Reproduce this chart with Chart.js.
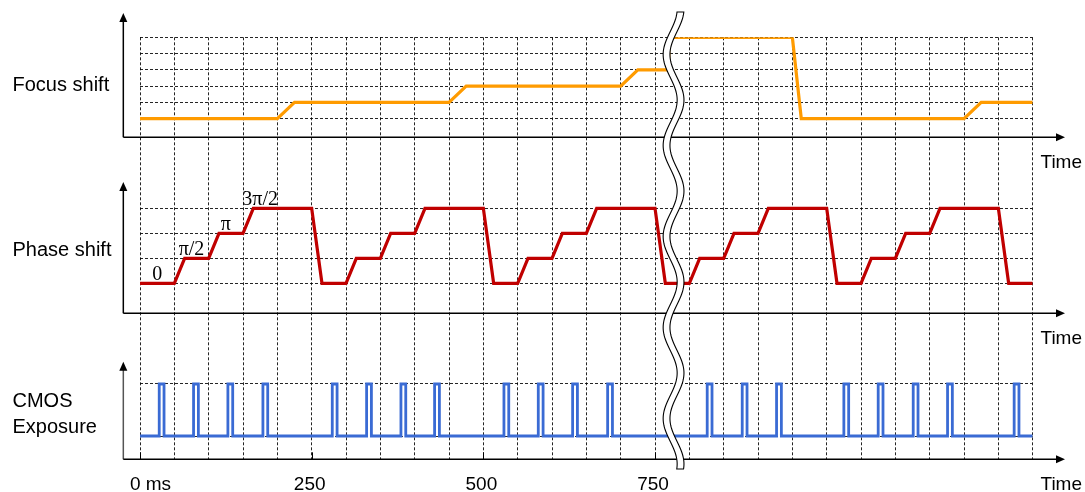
<!DOCTYPE html>
<html><head><meta charset="utf-8">
<script src="https://cdn.jsdelivr.net/npm/chart.js@4.4.1/dist/chart.umd.min.js"></script>
<style>html,body{margin:0;padding:0;background:#fff}#wrap{width:1085px;height:492px}</style>
</head><body><div id="wrap"><canvas id="c" width="1085" height="492"></canvas></div>
<script>
// ---- data (time in ms, levels in grid units) ----
const focusX = [0,200,225,450,475,700,725,770,770,950,963,1200,1225,1300];
const focusY = [1,1,2,2,3,3,4,4,6,6,1,1,2,2];

const phaseX = [0,50,65,100,115,150,165,250,265,300,315,350,365,400,415,500,515,550,565,600,615,650,665,750,765,800,815,850,865,900,915,1000,1015,1050,1065,1100,1115,1150,1165,1250,1265,1300];
const phaseY = [0,0,1,1,2,2,3,3,0,0,1,1,2,2,3,3,0,0,1,1,2,2,3,3,0,0,1,1,2,2,3,3,0,0,1,1,2,2,3,3,0,0];

const cmosX = [0,28,35,78,85,128,135,179,186,280,287,330,337,380,387,429,436,530,537,580,587,630,637,681,688,826,833,877,884,927,934,1025,1032,1075,1082,1126,1133,1176,1183,1273,1280,1300];
const cmosY = [0,1,0,1,0,1,0,1,0,1,0,1,0,1,0,1,0,1,0,1,0,1,0,1,0,1,0,1,0,1,0,1,0,1,0,1,0,1,0,1,0,0];

const phaseLabels = ['0','π/2','π','3π/2'];
const phaseLabelX = [25,75,125,175];
const phaseLabelLevel = [0,1,2,3];
const timeTickValues = [0,250,500,750];
const timeTickLabels = ['0 ms','250','500','750'];
const panelLabels = [['Focus shift'],['Phase shift'],['CMOS','Exposure']];
const axisTitle = 'Time';
const gridMs = [0,50,100,150,200,250,300,350,400,450,500,550,600,650,700,750,800,850,900,950,1000,1050,1100,1150,1200,1250,1300];
const focusGrid = [1,2,3,4,5,6];
const phaseGrid = [0,1,2,3];
const cmosGrid = [0,1];

const pts = (xs, ys) => xs.map((x, i) => ({x, y: ys[i]}));
const GRIDC = 'rgba(0,0,0,0.85)';
const DASH = [3,2];

function yScale(min, max, weight, order, grid) {
  return {
    type: 'linear', position: 'left', stack: 'panels', stackWeight: weight, weight: order,
    min, max,
    ticks: {display: false},
    grid: {color: GRIDC, lineWidth: 1, drawTicks: false},
    border: {display: false, dash: DASH},
    afterBuildTicks: s => { s.ticks = grid.map(v => ({value: v})); }
  };
}

const deco = {
  id: 'deco',
  afterDraw(chart) {
    const ctx = chart.ctx, xs = chart.scales.x;
    const panels = [
      {s: chart.scales.yF, axisV: -0.14, tipV: 7.5, col: '#000'},
      {s: chart.scales.yP, axisV: -1.2, tipV: 4.05, col: '#000'},
      {s: chart.scales.yC, axisV: -0.448, tipV: 1.43, col: '#555'}
    ];
    const ax = xs.getPixelForValue(-24.3);
    const tipX = xs.getPixelForValue(1347);
    ctx.save();
    panels.forEach((p, i) => {
      const ay = p.s.getPixelForValue(p.axisV);
      const ty = p.s.getPixelForValue(p.tipV);
      ctx.lineWidth = 1.5;
      ctx.strokeStyle = p.col;
      ctx.beginPath(); ctx.moveTo(ax, ty + 6); ctx.lineTo(ax, ay); ctx.stroke();
      ctx.strokeStyle = '#000';
      ctx.beginPath(); ctx.moveTo(ax, ay); ctx.lineTo(tipX - 6, ay); ctx.stroke();
      ctx.fillStyle = '#000';
      ctx.beginPath(); ctx.moveTo(ax, ty); ctx.lineTo(ax - 4, ty + 9); ctx.lineTo(ax + 4, ty + 9); ctx.closePath(); ctx.fill();
      ctx.beginPath(); ctx.moveTo(tipX, ay); ctx.lineTo(tipX - 9, ay - 4); ctx.lineTo(tipX - 9, ay + 4); ctx.closePath(); ctx.fill();
      p.ay = ay;
    });
    // small solid ticks on bottom axis
    const by = panels[2].ay;
    ctx.strokeStyle = '#000'; ctx.lineWidth = 1;
    timeTickValues.forEach(v => {
      const px = Math.round(xs.getPixelForValue(v)) + 0.5;
      ctx.beginPath(); ctx.moveTo(px, by); ctx.lineTo(px, by - 7); ctx.stroke();
    });

    // axis break (wavy double line)
    const cx = xs.getPixelForValue(777);
    const amp = 7, half = 3.4, per = 45.5, y0 = 12, y1 = 469;
    const wave = y => cx + amp * Math.cos(Math.PI * (y - 100) / per);
    ctx.beginPath();
    for (let y = y0; y <= y1; y += 1) { const w = wave(y) - half; if (y === y0) ctx.moveTo(w, y); else ctx.lineTo(w, y); }
    for (let y = y1; y >= y0; y -= 1) ctx.lineTo(wave(y) + half, y);
    ctx.closePath();
    ctx.fillStyle = '#fff'; ctx.fill();
    ctx.strokeStyle = '#000'; ctx.lineWidth = 1.1; ctx.stroke();

    // texts
    ctx.fillStyle = '#000';
    ctx.textBaseline = 'alphabetic';
    ctx.font = '20px "Liberation Sans", Arial, sans-serif';
    ctx.textAlign = 'left';
    ctx.fillText(panelLabels[0][0], 12.5, 90.7);
    ctx.fillText(panelLabels[1][0], 12.5, 256);
    ctx.fillText(panelLabels[2][0], 12.5, 407);
    ctx.fillText(panelLabels[2][1], 12.5, 432.7);

    ctx.font = '19px "Liberation Sans", Arial, sans-serif';
    panels.forEach(p => { ctx.fillText(axisTitle, 1040.5, p.ay + 31); });
    ctx.textAlign = 'center';
    timeTickValues.forEach((v, i) => {
      const off = i === 0 ? 10.5 : -2;
      ctx.fillText(timeTickLabels[i], xs.getPixelForValue(v) + off, by + 31);
    });

    ctx.font = '20px "Liberation Serif", "Times New Roman", serif';
    const ps = chart.scales.yP;
    phaseLabels.forEach((t, i) => {
      ctx.fillText(t, xs.getPixelForValue(phaseLabelX[i]), ps.getPixelForValue(phaseLabelLevel[i]) - 3);
    });
    ctx.restore();
  }
};

new Chart(document.getElementById('c'), {
  type: 'line',
  data: {
    datasets: [
      {label: 'Focus shift', data: pts(focusX, focusY), yAxisID: 'yF', borderColor: '#ff9b00', borderWidth: 3.2},
      {label: 'Phase shift', data: pts(phaseX, phaseY), yAxisID: 'yP', borderColor: '#c00000', borderWidth: 3.2},
      {label: 'CMOS Exposure', data: pts(cmosX, cmosY), yAxisID: 'yC', borderColor: '#3a6bd4', borderWidth: 2.8, stepped: true}
    ]
  },
  options: {
    responsive: false,
    animation: false,
    devicePixelRatio: 1,
    parsing: true,
    elements: {
      point: {radius: 0, hoverRadius: 0},
      line: {tension: 0, fill: false, borderJoinStyle: 'miter', borderCapStyle: 'butt'}
    },
    layout: {padding: {left: 140, right: 52.3, top: 37.3, bottom: 32.7}},
    plugins: {legend: {display: false}, tooltip: {enabled: false}},
    events: [],
    scales: {
      x: {
        type: 'linear', position: 'bottom', min: 0, max: 1300,
        ticks: {display: false},
        grid: {color: GRIDC, lineWidth: 1, drawTicks: false},
        border: {display: false, dash: DASH},
        afterBuildTicks: s => { s.ticks = gridMs.map(v => ({value: v})); }
      },
      yF: yScale(-1.537, 6, 122.7, 3, focusGrid),
      yP: yScale(-2.268, 4.932, 180, 2, phaseGrid),
      yC: yScale(-0.448, 1.846, 119.3, 1, cmosGrid)
    }
  },
  plugins: [deco]
});
</script>
</body></html>
